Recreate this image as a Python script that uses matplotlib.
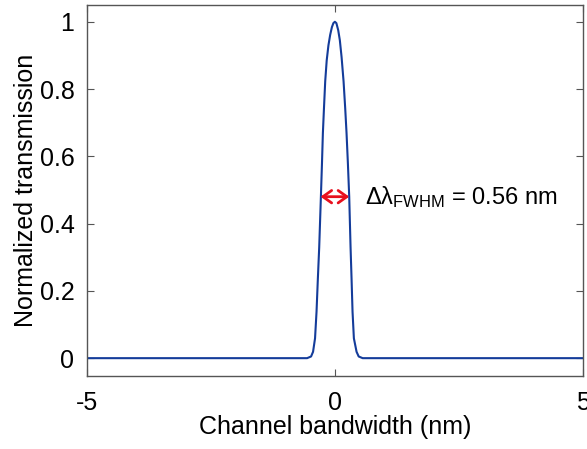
import matplotlib
matplotlib.use("Agg")
import matplotlib.pyplot as plt

plt.rcParams['font.family'] = ['Liberation Sans', 'DejaVu Sans']
plt.rcParams['mathtext.fontset'] = 'custom'
plt.rcParams['mathtext.rm'] = 'Liberation Sans'
plt.rcParams['mathtext.it'] = 'Liberation Sans'

# transmission spectrum
bandwidth_nm = [-5.0, -0.56, -0.48, -0.44, -0.40, -0.37, -0.343, -0.316, -0.282, -0.26,
                -0.242, -0.22, -0.195, -0.165, -0.13, -0.095, -0.06, -0.03, 0.0, 0.03,
                0.067, 0.1, 0.135, 0.175, 0.208, 0.235, 0.262, 0.289, 0.316, 0.336,
                0.356, 0.383, 0.437, 0.48, 0.56, 5.0]
transmission = [0.0, 0.0, 0.005, 0.019, 0.059, 0.138, 0.237, 0.33, 0.48, 0.58,
                0.669, 0.743, 0.823, 0.885, 0.93, 0.961, 0.984, 0.996, 1.0, 0.996,
                0.975, 0.945, 0.895, 0.823, 0.743, 0.669, 0.58, 0.48, 0.33, 0.237,
                0.138, 0.059, 0.019, 0.005, 0.0, 0.0]

x_ticks = [-5, 0, 5]
y_ticks = [0, 0.2, 0.4, 0.6, 0.8, 1]
y_ticklabels = ["0", "0.2", "0.4", "0.6", "0.8", "1"]

fwhm_left, fwhm_right, fwhm_level = -0.29, 0.29, 0.48

fig = plt.figure(figsize=(5.87, 4.49), dpi=100)
ax = fig.add_axes([0.148, 0.1626, 0.845, 0.8264])

ax.plot(bandwidth_nm, transmission, color='#143c9a', lw=1.5)

ax.annotate('', xy=(fwhm_left, fwhm_level), xytext=(fwhm_right, fwhm_level),
            arrowprops=dict(arrowstyle='<->,head_length=0.45,head_width=0.32',
                            color='#e8101e', lw=2,
                            mutation_scale=14, shrinkA=0, shrinkB=0))
ax.text(0.6, fwhm_level, r'$\Delta\lambda_{FWHM}$ = 0.56 nm',
        fontsize=17, va='center', ha='left')

ax.set_xlim(-5, 5)
ax.set_ylim(-0.053, 1.05)
ax.set_xticks(x_ticks)
ax.set_xticklabels([str(t) for t in x_ticks])
ax.set_yticks(y_ticks)
ax.set_yticklabels(y_ticklabels)
ax.tick_params(direction='in', length=5, width=0.8, color='#555555',
               labelsize=18, top=True, right=True)
ax.tick_params(axis='x', pad=11)
ax.tick_params(axis='y', pad=9)
for s in ax.spines.values():
    s.set_color('#555555')
    s.set_linewidth(1.0)

ax.set_xlabel('Channel bandwidth (nm)', fontsize=18, labelpad=0)
ax.set_ylabel('Normalized transmission', fontsize=18, labelpad=1)

fig.savefig('out.png', dpi=100)
